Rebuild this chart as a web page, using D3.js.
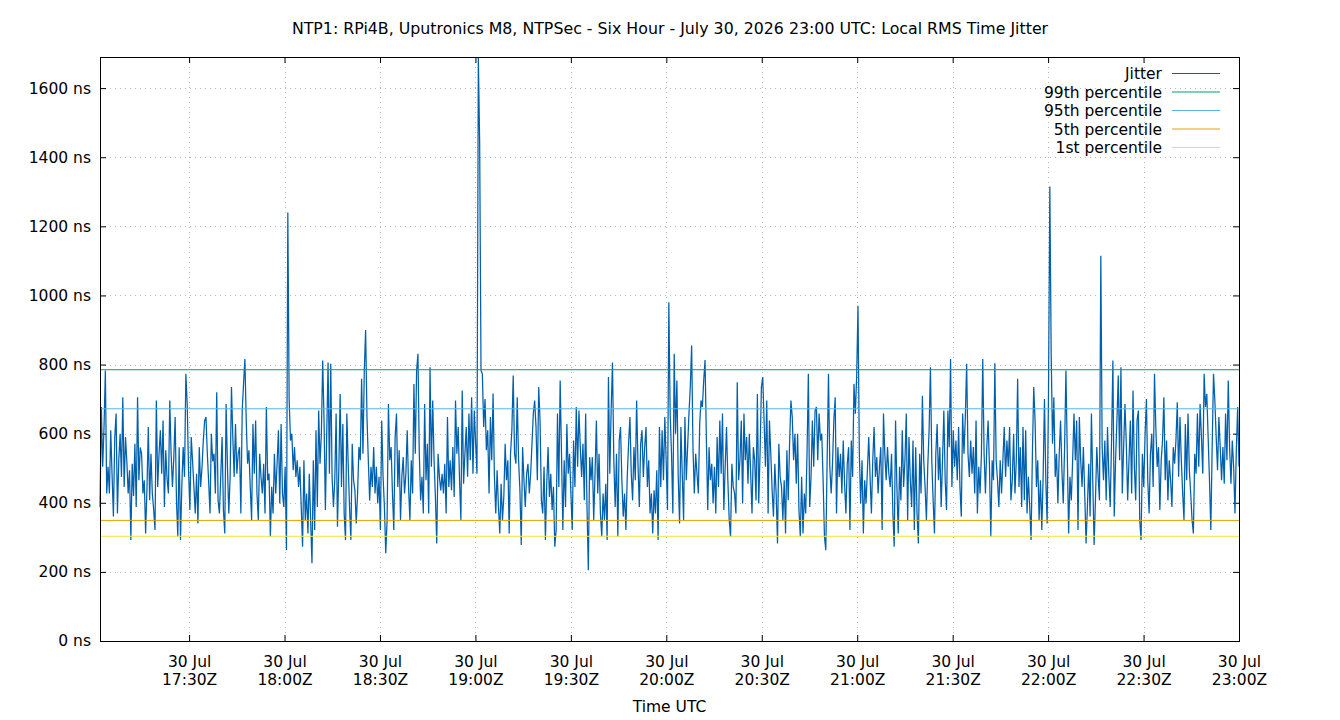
<!DOCTYPE html>
<html>
<head>
<meta charset="utf-8">
<script src="https://cdn.jsdelivr.net/npm/d3@7"></script>
<style>
  body { margin: 0; background: #fff; }
  text { font-family: "DejaVu Sans", sans-serif; font-size: 15.5px; fill: #000; }
</style>
</head>
<body>
<div id="chart"></div>
<script>
// Chart data
var titleText = "NTP1: RPi4B, Uputronics M8, NTPSec - Six Hour - July 30, 2026 23:00 UTC: Local RMS Time Jitter";
var startTime = "2026-07-30T17:02:00Z";
var endTime = "2026-07-30T23:00:00Z";

// local RMS time jitter (ns), evenly sampled from startTime to endTime
var jitter = [
  // 17:02 - 17:38
  388, 677, 504, 620, 783, 427, 504, 427, 610, 480, 360, 590, 658, 369, 523, 600, 475, 705, 446, 590,
  520, 427, 494, 292, 513, 420, 571, 388, 705, 465, 560, 542, 427, 465, 311, 440, 619, 407, 542, 427,
  380, 321, 696, 446, 542, 610, 484, 638, 388, 552, 470, 427, 696, 542, 446, 530, 648, 407, 302, 561,
  292, 450, 561, 475, 773, 686, 494, 379, 590, 520, 446, 369, 484, 340, 561, 446, 500, 580, 638, 648,
  542, 460, 369, 600, 520,
  // 17:38 - 18:14
  542, 427, 720, 407, 369, 475, 590, 379, 311, 686, 504, 369, 475, 735, 590, 475, 628, 484, 542, 561,
  369, 667, 744, 816, 638, 513, 552, 446, 350, 628, 484, 638, 427, 350, 542, 475, 427, 513, 369, 677,
  465, 484, 302, 446, 369, 542, 427, 513, 610, 398, 628, 427, 388, 504, 263, 1240, 696, 580, 600, 494,
  561, 475, 523, 446, 504, 388, 273, 523, 350, 427, 311, 484, 350, 225, 523, 321, 610, 388, 667, 513,
  600, 812, 638, 379, 600,
  // 18:14 - 18:50
  806, 484, 802, 475, 388, 465, 658, 331, 494, 715, 446, 628, 369, 292, 658, 513, 388, 292, 571, 465,
  436, 340, 427, 561, 523, 759, 542, 783, 900, 648, 523, 407, 504, 446, 561, 427, 504, 398, 475, 321,
  638, 475, 388, 254, 350, 686, 523, 561, 427, 321, 590, 658, 446, 552, 350, 475, 532, 427, 484, 610,
  446, 350, 523, 427, 744, 542, 783, 831, 542, 407, 475, 369, 686, 465, 571, 369, 792, 504, 696, 523,
  417, 282, 542, 475, 436,
  // 18:50 - 19:26
  484, 427, 513, 369, 648, 446, 523, 436, 561, 417, 696, 542, 619, 465, 350, 725, 455, 542, 619, 475,
  658, 523, 705, 484, 667, 571, 484, 1690, 1440, 783, 773, 619, 700, 552, 610, 427, 648, 523, 716, 475,
  369, 494, 388, 311, 455, 350, 417, 571, 465, 523, 311, 542, 610, 768, 542, 513, 705, 523, 436, 278,
  561, 465, 388, 484, 513, 427, 484, 571, 658, 696, 619, 465, 735, 638, 407, 369, 504, 292, 455, 561,
  417, 484, 379, 446, 273,
  // 19:26 - 20:01
  321, 658, 446, 754, 542, 321, 523, 388, 628, 484, 542, 427, 321, 580, 446, 677, 504, 667, 561, 475,
  571, 407, 658, 388, 205, 532, 465, 532, 350, 484, 638, 427, 542, 369, 302, 427, 350, 455, 292, 764,
  484, 667, 806, 523, 388, 542, 302, 580, 619, 465, 360, 427, 321, 475, 571, 648, 484, 407, 561, 465,
  696, 513, 388, 571, 610, 475, 561, 619, 446, 523, 369, 427, 311, 436, 369, 494, 292, 619, 446, 610,
  465, 648, 523, 379, 980,
  // 20:01 - 20:37
  658, 542, 369, 831, 600, 754, 475, 340, 619, 484, 350, 648, 465, 561, 658, 735, 855, 561, 427, 542,
  484, 427, 628, 696, 677, 754, 813, 580, 379, 561, 465, 513, 398, 504, 369, 590, 446, 638, 484, 658,
  379, 504, 619, 465, 350, 302, 513, 446, 427, 369, 749, 465, 523, 638, 398, 658, 523, 590, 455, 600,
  484, 369, 561, 523, 407, 715, 398, 542, 735, 764, 638, 504, 696, 369, 638, 542, 436, 360, 513, 427,
  282, 571, 475, 446, 350,
  // 20:37 - 21:13
  465, 311, 552, 407, 571, 696, 648, 523, 600, 455, 600, 379, 302, 475, 311, 427, 369, 542, 773, 388,
  475, 638, 504, 667, 677, 523, 658, 580, 600, 465, 302, 263, 523, 773, 504, 427, 513, 638, 705, 369,
  561, 475, 542, 427, 580, 455, 369, 513, 561, 321, 580, 475, 744, 658, 764, 970, 542, 398, 523, 311,
  465, 398, 494, 590, 475, 369, 523, 619, 475, 532, 427, 504, 561, 321, 658, 542, 465, 561, 484, 446,
  542, 369, 273, 638, 446,
  // 21:13 - 21:49
  311, 504, 407, 610, 446, 523, 658, 350, 590, 465, 388, 580, 321, 561, 369, 282, 542, 427, 710, 523,
  446, 350, 504, 610, 792, 523, 407, 311, 542, 628, 465, 561, 388, 523, 667, 465, 379, 667, 561, 816,
  446, 610, 504, 580, 465, 619, 446, 360, 658, 542, 648, 802, 542, 475, 580, 484, 561, 427, 638, 369,
  504, 427, 542, 816, 542, 427, 561, 638, 504, 302, 523, 465, 804, 523, 465, 388, 523, 427, 523, 619,
  475, 580, 504, 619, 407,
  // 21:49 - 22:25
  465, 600, 427, 523, 759, 446, 561, 388, 619, 407, 610, 369, 475, 388, 292, 542, 735, 638, 446, 523,
  350, 465, 321, 475, 700, 465, 340, 715, 1315, 831, 571, 705, 475, 542, 398, 542, 638, 494, 398, 561,
  783, 542, 311, 475, 407, 523, 658, 523, 638, 321, 648, 523, 446, 561, 427, 282, 388, 513, 360, 658,
  465, 278, 407, 561, 475, 407, 1115, 561, 465, 580, 407, 619, 475, 388, 580, 812, 360, 523, 638, 768,
  523, 792, 427, 561, 686,
  // 22:25 - 23:00
  571, 407, 523, 638, 427, 725, 504, 407, 638, 667, 350, 292, 542, 446, 600, 700, 465, 369, 542, 600,
  446, 773, 619, 504, 561, 379, 523, 580, 705, 465, 580, 407, 523, 465, 388, 561, 513, 580, 691, 475,
  648, 523, 427, 350, 628, 465, 658, 494, 427, 350, 311, 542, 484, 658, 504, 686, 590, 484, 773, 677,
  715, 590, 465, 321, 561, 773, 696, 590, 494, 648, 561, 465, 561, 455, 658, 523, 754, 561, 455, 580,
  504, 369, 552, 677, 504
];

// percentile reference lines (ns)
var percentileNames = ["99th percentile", "95th percentile", "5th percentile", "1st percentile"];
var percentileValues = [785, 672, 349, 303];
var percentileColors = ["#009e73", "#56b4e9", "#e69f00", "#f0e442"];

var yTicks = [0, 200, 400, 600, 800, 1000, 1200, 1400, 1600];
var xTickLabels = ["17:30", "18:00", "18:30", "19:00", "19:30", "20:00", "20:30", "21:00", "21:30", "22:00", "22:30", "23:00"];

var svgWidth = 1340;
var svgHeight = 720;

var margin = {
  top: 57,
  right: 101,
  bottom: 79,
  left: 100
};

var width = svgWidth - margin.left - margin.right;
var height = svgHeight - margin.top - margin.bottom;

var svg = d3.select("#chart")
  .append("svg")
  .attr("width", svgWidth)
  .attr("height", svgHeight);

var chartGroup = svg.append("g")
  .attr("transform", `translate(${margin.left}, ${margin.top})`);

// build time points for the samples
var t0 = new Date(startTime);
var t1 = new Date(endTime);
var stepMs = (t1 - t0) / (jitter.length - 1);
var jitterData = jitter.map((v, i) => ({ time: new Date(+t0 + i * stepMs), value: v }));

var xTimes = xTickLabels.map(s => new Date(`2026-07-30T${s}:00Z`));

var xScale = d3.scaleUtc()
  .domain([t0, t1])
  .range([0, width]);

var yScale = d3.scaleLinear()
  .domain([0, d3.max(jitter)])
  .range([height, 0]);

// dotted grid
var grid = chartGroup.append("g")
  .attr("stroke", "#b8b8b8")
  .attr("stroke-width", 1)
  .attr("stroke-dasharray", "1,4");

grid.selectAll("line.hgrid")
  .data(yTicks.filter(d => d > 0))
  .enter()
  .append("line")
  .attr("x1", 0)
  .attr("x2", width)
  .attr("y1", d => Math.round(yScale(d)) + 0.5)
  .attr("y2", d => Math.round(yScale(d)) + 0.5);

grid.selectAll("line.vgrid")
  .data(xTimes)
  .enter()
  .append("line")
  .attr("y1", 0)
  .attr("y2", height)
  .attr("x1", d => Math.round(xScale(d)) + 0.5)
  .attr("x2", d => Math.round(xScale(d)) + 0.5);

// axes, ticks pointing inward like gnuplot
var bottomAxis = d3.axisBottom(xScale)
  .tickValues(xTimes)
  .tickSizeInner(-6)
  .tickSizeOuter(0)
  .tickPadding(9)
  .tickFormat(d3.utcFormat("%H:%MZ"));

var leftAxis = d3.axisLeft(yScale)
  .tickValues(yTicks)
  .tickSizeInner(-6)
  .tickSizeOuter(0)
  .tickPadding(9)
  .tickFormat(d => d + " ns");

var xAxis = chartGroup.append("g")
  .attr("transform", `translate(0, ${height})`)
  .call(bottomAxis);

// two line tick labels: date then time
xAxis.selectAll(".tick text")
  .each(function(d) {
    var t = d3.select(this);
    var label = t.text();
    t.text(null).attr("y", 0).attr("dy", null);
    t.append("tspan").attr("x", 0).attr("y", 26).text("30 Jul");
    t.append("tspan").attr("x", 0).attr("y", 44).text(label);
  });

chartGroup.append("g")
  .call(leftAxis);

chartGroup.append("g")
  .call(d3.axisTop(xScale).tickValues(xTimes).tickSizeInner(-6).tickSizeOuter(0).tickFormat(""));

chartGroup.append("g")
  .attr("transform", `translate(${width}, 0)`)
  .call(d3.axisRight(yScale).tickValues(yTicks).tickSizeInner(-6).tickSizeOuter(0).tickFormat(""));

chartGroup.selectAll(".domain").remove();
chartGroup.selectAll(".tick line").attr("stroke", "#000");
chartGroup.selectAll(".tick text")
  .style("font-family", "\"DejaVu Sans\", sans-serif")
  .style("font-size", "15.5px")
  .attr("fill", "#000");

// jitter series
var line = d3.line()
  .x(d => xScale(d.time))
  .y(d => yScale(d.value));

chartGroup.append("path")
  .datum(jitterData)
  .attr("fill", "none")
  .attr("stroke", "#0060ad")
  .attr("stroke-width", 1.25)
  .attr("d", line);

// percentile lines on top
chartGroup.selectAll("line.pct")
  .data(percentileValues)
  .enter()
  .append("line")
  .attr("x1", 0)
  .attr("x2", width)
  .attr("y1", d => yScale(d))
  .attr("y2", d => yScale(d))
  .attr("stroke", (d, i) => percentileColors[i])
  .attr("stroke-width", 1);

// border
chartGroup.append("rect")
  .attr("x", 0.5)
  .attr("y", 0.5)
  .attr("width", width)
  .attr("height", height)
  .attr("fill", "none")
  .attr("stroke", "#000")
  .attr("stroke-width", 1);

// legend
var legendNames = ["Jitter"].concat(percentileNames);
var legendColors = ["#0060ad"].concat(percentileColors);

var legend = chartGroup.append("g")
  .attr("transform", `translate(${1162 - margin.left}, ${73.5 - margin.top})`);

var legendRows = legend.selectAll("g")
  .data(legendNames)
  .enter()
  .append("g")
  .attr("transform", (d, i) => `translate(0, ${i * 18.5})`);

legendRows.append("text")
  .attr("text-anchor", "end")
  .attr("y", 5.5)
  .text(d => d);

legendRows.append("line")
  .attr("x1", 10)
  .attr("x2", 58)
  .attr("y1", 0)
  .attr("y2", 0)
  .attr("stroke", (d, i) => legendColors[i])
  .attr("stroke-width", 1);

// title and axis label
svg.append("text")
  .attr("x", 670)
  .attr("y", 34)
  .attr("text-anchor", "middle")
  .style("font-size", "15.8px")
  .text(titleText);

svg.append("text")
  .attr("x", margin.left + width / 2)
  .attr("y", 712)
  .attr("text-anchor", "middle")
  .text("Time UTC");
</script>
</body>
</html>
